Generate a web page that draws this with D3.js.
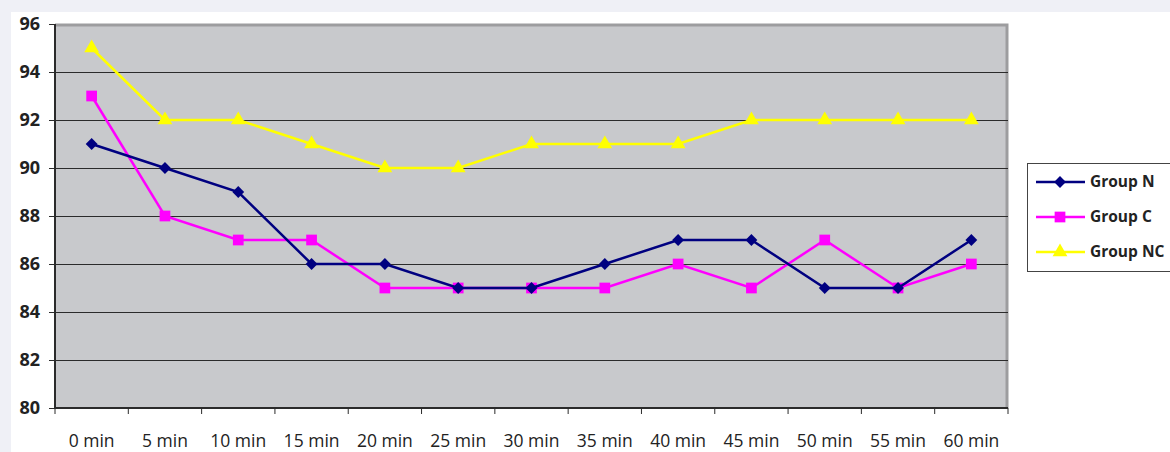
<!DOCTYPE html>
<html><head><meta charset="utf-8">
<script src="https://cdn.jsdelivr.net/npm/d3@7"></script>
<style>
html,body{margin:0;padding:0;background:#eff0f6;}
svg{display:block;}
</style></head>
<body>
<svg id="c" width="1170" height="452"></svg>
<script>
const categories = ["0 min","5 min","10 min","15 min","20 min","25 min","30 min","35 min","40 min","45 min","50 min","55 min","60 min"];
const groupN  = [91,90,89,86,86,85,85,86,87,87,85,85,87];
const groupC  = [93,88,87,87,85,85,85,85,86,85,87,85,86];
const groupNC = [95,92,92,91,90,90,91,91,91,92,92,92,92];
const yTicks = [80,82,84,86,88,90,92,94,96];
const seriesNames = ["Group N","Group C","Group NC"];

const series = [
  {name: seriesNames[0], values: groupN,  color: "#000080", shape: d3.symbolSquare, size: 70, rot: 45},
  {name: seriesNames[1], values: groupC,  color: "#ff00ff", shape: d3.symbolSquare,  size: 115, rot: 0},
  {name: seriesNames[2], values: groupNC, color: "#ffff00", shape: d3.symbolTriangle, size: 95, rot: 0}
];

const svg = d3.select("#c");
const font = "'Open Sans', 'Liberation Sans', sans-serif";
svg.append("rect").attr("x",11).attr("y",12).attr("width",1159).attr("height",440).attr("fill","#ffffff");

const L = 55, R = 1008, T = 24, B = 408;
const x = d3.scaleBand().domain(categories).range([L, R]);
const y = d3.scaleLinear().domain([80, 96]).range([B, T]);

svg.append("rect").attr("x",L).attr("y",T).attr("width",R-L).attr("height",B-T).attr("fill","#c8c9cc");
svg.append("path").attr("d",`M${L},${T+1}H${R-1}V${B}`).attr("fill","none").attr("stroke","#9d9d9f").attr("stroke-width",3);

svg.append("g").selectAll("line").data(yTicks.filter(d=>d>80 && d<96)).join("line")
  .attr("x1",L).attr("x2",R).attr("y1",d=>y(d)+0.5).attr("y2",d=>y(d)+0.5)
  .attr("stroke","#2b2b2b").attr("stroke-width",1);

const ya = svg.append("g").attr("transform",`translate(${L},0)`)
  .call(d3.axisLeft(y).tickValues(yTicks).tickSize(6).tickPadding(14).tickFormat(d3.format("d")));
ya.select(".domain").attr("stroke","#2b2b2b").attr("stroke-width",2).attr("d",`M0,${T}V${B}`);
ya.selectAll(".tick line").attr("stroke","#2b2b2b");
ya.selectAll("text").attr("font-family",font).attr("font-size",18).attr("font-weight","bold").attr("fill","#222").attr("x",-15).attr("text-anchor","end");

const xa = svg.append("g").attr("transform",`translate(0,${B})`)
  .call(d3.axisBottom(x).tickSize(0).tickPadding(27));
xa.select(".domain").attr("stroke","#2b2b2b").attr("stroke-width",2).attr("d",`M${L},0H${R}`);
xa.selectAll("text").attr("font-family",font).attr("font-size",17.5).attr("fill","#222");
svg.append("g").selectAll("line").data(d3.range(categories.length+1)).join("line")
  .attr("x1",i=>L + i*x.step()).attr("x2",i=>L + i*x.step())
  .attr("y1",B).attr("y2",B+6).attr("stroke","#2b2b2b").attr("stroke-width",1);

const cx = d => x(d) + x.bandwidth()/2;
const line = d3.line().x((v,i)=>cx(categories[i])).y(v=>y(v));

[series[2], series[1], series[0]].forEach(s => {
  const g = svg.append("g");
  g.append("path").attr("d", line(s.values)).attr("fill","none").attr("stroke",s.color).attr("stroke-width",2.5);
  g.selectAll("path.m").data(s.values).join("path").attr("class","m")
    .attr("transform",(v,i)=>`translate(${cx(categories[i])},${y(v)}) rotate(${s.rot})`)
    .attr("d", d3.symbol().type(s.shape).size(s.size)).attr("fill",s.color);
});

const lg = svg.append("g");
lg.append("rect").attr("x",1027.5).attr("y",163.5).attr("width",150).attr("height",108).attr("fill","#fff").attr("stroke","#444").attr("stroke-width",1);
series.forEach((s,i) => {
  const yy = 182 + i*35;
  lg.append("line").attr("x1",1036).attr("x2",1085).attr("y1",yy).attr("y2",yy).attr("stroke",s.color).attr("stroke-width",2.5);
  lg.append("path").attr("transform",`translate(1060,${yy}) rotate(${s.rot})`).attr("d",d3.symbol().type(s.shape).size(s.size)).attr("fill",s.color);
  lg.append("text").attr("x",1090).attr("y",yy).attr("dy","0.35em").attr("font-family",font).attr("font-size",15.5).attr("font-weight","bold").attr("fill","#222").text(s.name);
});
</script>
</body></html>
